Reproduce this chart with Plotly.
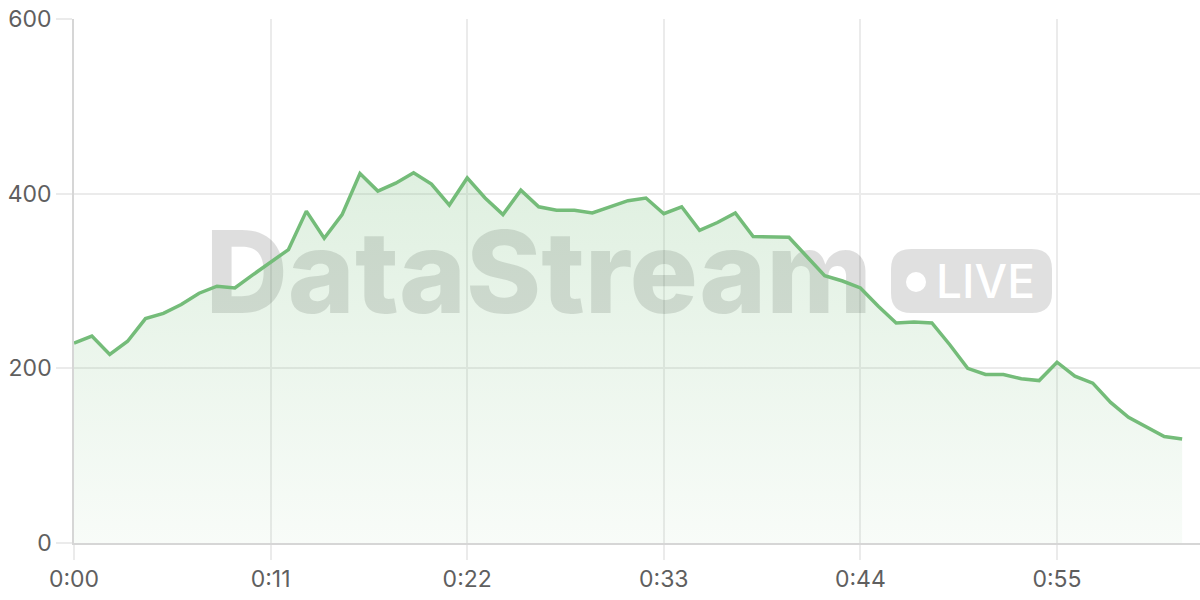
import plotly.graph_objects as go

# one reading per second, 0..62
seconds = list(range(63))
values = [229, 237, 216, 231, 257, 263, 273, 286, 294, 292,
          307, 321, 336, 380, 349, 376, 423, 403, 412, 424,
          411, 387, 418, 395, 376, 404, 385, 381, 381, 378,
          385, 392, 395, 377, 385, 358, 367, 378, 351, 350,
          350, 328, 306, 300, 292, 271, 252, 253, 252, 227,
          200, 193, 193, 188, 186, 207, 191, 183, 161, 144,
          133, 122, 119]

tick_vals = [0, 11, 22, 33, 44, 55]
tick_text = ["0:00", "0:11", "0:22", "0:33", "0:44", "0:55"]

GREEN = "rgb(116,188,121)"
FONT = "Inter"

fig = go.Figure()

# watermark text, drawn under the series so the line stays on top
fig.add_trace(go.Scatter(
    x=[26.0], y=[296], mode="text", text=["DataStream"],
    textposition="middle center",
    textfont=dict(family=FONT, size=114, color="rgba(0,0,0,0.13)", weight=800),
    hoverinfo="skip", showlegend=False,
))

fig.add_trace(go.Scatter(
    x=seconds, y=values, mode="lines",
    line=dict(color=GREEN, width=3.5),
    fill="tozeroy",
    fillgradient=dict(type="vertical",
                      colorscale=[[0, "rgba(116,188,121,0.05)"],
                                  [1, "rgba(116,188,121,0.23)"]]),
    hoverinfo="skip", showlegend=False,
))

# "LIVE" badge
W, H = 1126.0, 524.0
def px(x):
    return (x - 74) / W
def py(y):
    return (543 - y) / H

x0, x1, y0, y1 = px(891), px(1052), py(313), py(249)
rx, ry = 20 / W, 20 / H
badge = (f"M {x0+rx},{y0} L {x1-rx},{y0} Q {x1},{y0} {x1},{y0+ry} "
         f"L {x1},{y1-ry} Q {x1},{y1} {x1-rx},{y1} "
         f"L {x0+rx},{y1} Q {x0},{y1} {x0},{y1-ry} "
         f"L {x0},{y0+ry} Q {x0},{y0} {x0+rx},{y0} Z")
fig.add_shape(type="path", path=badge, xref="paper", yref="paper",
              fillcolor="rgba(0,0,0,0.12)", line=dict(width=0))
fig.add_shape(type="circle", xref="paper", yref="paper",
              x0=px(906), x1=px(926), y0=py(292), y1=py(272),
              fillcolor="white", line=dict(width=0))
fig.add_annotation(text="LIVE", xref="paper", yref="paper",
                   x=px(985), y=py(281), xanchor="center", yanchor="middle",
                   showarrow=False,
                   font=dict(family=FONT, size=46, color="white", weight=500))

fig.update_layout(
    width=1200, height=600,
    margin=dict(l=74, r=0, t=19, b=57),
    paper_bgcolor="white", plot_bgcolor="white",
    font=dict(family=FONT, color="#5f5f5f", size=23),
    hovermode=False,
)
fig.update_xaxes(
    range=[0, 63], tickvals=tick_vals, ticktext=tick_text,
    showgrid=True, gridcolor="#ebebeb", gridwidth=1.5,
    ticks="outside", ticklen=15, tickcolor="#ebebeb", tickwidth=1.5,
    showline=True, linecolor="#d6d6d6", linewidth=1.5,
    zeroline=False, tickfont=dict(size=23),
)
fig.update_yaxes(
    range=[0, 600], tickvals=[0, 200, 400, 600],
    showgrid=True, gridcolor="#ebebeb", gridwidth=1.5,
    ticks="outside", ticklen=16, tickcolor="#ebebeb", tickwidth=1.5,
    showline=True, linecolor="#d6d6d6", linewidth=1.5,
    zeroline=False, tickfont=dict(size=23),
)

# drop the default page margin so the figure sits at the window corner
fig.write_html("out.html", config={"displayModeBar": False},
               post_script="document.body.style.margin='0';")
